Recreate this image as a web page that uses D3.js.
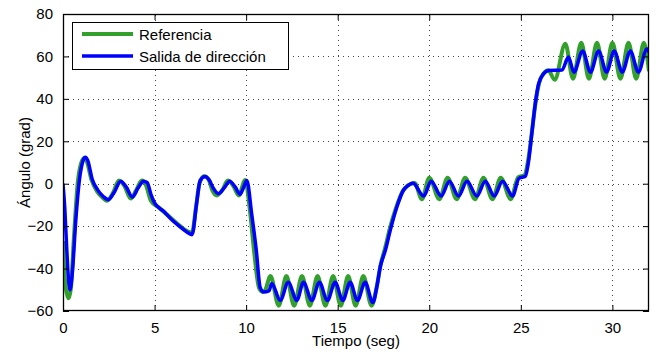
<!DOCTYPE html>
<html>
<head>
<meta charset="utf-8">
<script src="https://cdn.jsdelivr.net/npm/d3@7"></script>
<style>
  body { margin: 0; background: #fff; }
  text { font-family: 'Liberation Sans', Arial, sans-serif; font-size: 15px; fill: #000; }
</style>
</head>
<body>
<script>
const outerWidth = 659
const outerHeight = 356
const margins = { top: 14, right: 10, bottom: 45, left: 63 }

const xTicks = [0, 5, 10, 15, 20, 25, 30]
const yTicks = [-60, -40, -20, 0, 20, 40, 60, 80]

const refTime = [0, 0.05, 0.15, 0.3, 0.42, 0.6, 0.8, 1.0, 1.15, 1.3, 1.55, 1.85, 2.1, 2.4, 2.75, 3.05, 3.35, 3.7, 4.0, 4.3, 4.5, 4.8, 5.2, 5.6, 6.0, 6.4, 6.8, 7.05, 7.25, 7.45, 7.7, 7.95, 8.15, 8.4, 8.7, 9.0, 9.3, 9.6, 9.95, 10.2, 10.45, 10.7, 10.9, 11.05, 11.33, 11.78, 12.2, 12.62, 13.05, 13.48, 13.9, 14.33, 14.75, 15.17, 15.57, 15.98, 16.4, 16.85, 17.1, 17.35, 17.6, 17.85, 18.2, 18.55, 18.8, 19.05, 19.2, 19.6, 20.0, 20.55, 21.0, 21.5, 21.96, 22.5, 22.96, 23.45, 23.9, 24.45, 24.85, 25.2, 25.4, 25.6, 25.8, 26.0, 26.25, 26.5, 26.85, 27.43, 27.85, 28.3, 28.72, 29.16, 29.58, 30.0, 30.44, 30.88, 31.3, 31.72, 32.0]
const refValues = [-27, -38, -49, -54, -50, -25, 0, 10, 12, 10.5, 2, -3.5, -6, -8, -4, 1.5, -1, -7, -3, 1.5, 0, -8, -11, -14, -17, -20, -22.5, -23, -12, 0, 3.5, 2, -3, -5.5, -3, 1.5, -1, -5.5, 1.8, -12, -33, -49, -51, -50, -43.5, -57.5, -43.5, -57.5, -43.5, -57.5, -43.5, -57.5, -43.5, -57.5, -43.5, -57.5, -43.5, -57.5, -50, -38, -30, -21, -11, -3.5, -1, 0, 0.3, -7.3, 2.8, -7.3, 2.8, -7.3, 2.8, -7.3, 2.8, -7.3, 2.8, -7.3, 3, 4, 11, 24, 38, 47.5, 52, 53.5, 49, 66, 49.5, 66.5, 49.5, 66.5, 49.5, 66.5, 49.5, 66.5, 49.5, 66.5, 53]

const outTime = [0, 0.1, 0.2, 0.3, 0.38, 0.5, 0.7, 0.9, 1.1, 1.22, 1.35, 1.6, 1.9, 2.2, 2.48, 2.8, 3.15, 3.45, 3.79, 4.1, 4.4, 4.6, 4.8, 5.0, 5.5, 6.0, 6.5, 6.8, 7.05, 7.3, 7.49, 7.76, 8.0, 8.2, 8.49, 8.8, 9.1, 9.4, 9.67, 9.85, 10.04, 10.3, 10.55, 10.77, 10.95, 11.25, 11.4, 11.86, 12.3, 12.77, 13.13, 13.59, 14.0, 14.44, 14.86, 15.28, 15.68, 16.08, 16.5, 16.92, 17.15, 17.33, 17.6, 17.87, 18.23, 18.58, 18.85, 19.1, 19.7, 20.1, 20.65, 21.1, 21.6, 22.06, 22.6, 23.06, 23.55, 24.0, 24.55, 24.9, 25.25, 25.43, 25.6, 25.79, 25.97, 26.25, 26.52, 27.25, 27.6, 27.9, 28.38, 28.8, 29.25, 29.68, 30.1, 30.54, 30.98, 31.42, 31.88, 32.0]
const outValues = [0, -12, -30, -45, -50, -43, -17, 2, 11, 12.5, 11, 2, -3, -6, -7.5, -4, 1.2, -1.5, -6.3, -2, 1.2, 0.5, -5, -9, -13, -17.5, -21, -23, -24, -9, 1.5, 3.4, 1.5, -2, -4.7, -2, 1.2, -1.5, -5, -2, 1.5, -14, -31, -49, -51, -50.5, -47, -55, -46.5, -55, -46.5, -55, -46.5, -55, -46.5, -55, -46.5, -55, -46.5, -56, -48, -39, -31.5, -22, -11, -3.2, -0.8, 0.3, -5.8, 1.2, -5.8, 1.2, -5.8, 1.2, -5.8, 1.2, -5.8, 1.2, -5.8, 2.5, 3.5, 11, 23.6, 37.7, 47, 51.9, 53.4, 53.6, 59.7, 52.6, 62.6, 52.6, 62.6, 52.6, 62.6, 52.6, 62.6, 52.6, 63.5, 62]

const seriesNames = ['Referencia', 'Salida de dirección']
const seriesColors = ['#33a02c', '#0000ff']

const series = [
  { name: seriesNames[0], color: seriesColors[0], width: 4, points: refTime.map((t, i) => [t, refValues[i]]) },
  { name: seriesNames[1], color: seriesColors[1], width: 3.5, points: outTime.map((t, i) => [t, outValues[i]]) }
]

const svg = d3.select('body').append('svg')
  .attr('width', outerWidth)
  .attr('height', outerHeight)

const xScale = d3.scaleLinear()
  .domain([0, 32])
  .range([margins.left, outerWidth - margins.right])
const yScale = d3.scaleLinear()
  .domain([-60, 80])
  .range([outerHeight - margins.bottom, margins.top])

const [x0, x1] = xScale.range()
const [y0, y1] = yScale.range()

// dotted grid
const grid = svg.append('g')
  .attr('stroke', '#444')
  .attr('stroke-width', 1)
  .attr('stroke-dasharray', '1,4')
grid.selectAll('.gx').data(xTicks.filter(d => d > 0))
  .enter().append('line')
  .attr('x1', d => Math.round(xScale(d)) + 0.5)
  .attr('x2', d => Math.round(xScale(d)) + 0.5)
  .attr('y1', y0).attr('y2', y1)
grid.selectAll('.gy').data(yTicks.filter(d => d > -60 && d < 80))
  .enter().append('line')
  .attr('y1', d => Math.round(yScale(d)) + 0.5)
  .attr('y2', d => Math.round(yScale(d)) + 0.5)
  .attr('x1', x0).attr('x2', x1)

svg.append('clipPath').attr('id', 'plot')
  .append('rect')
  .attr('x', x0).attr('y', y1)
  .attr('width', x1 - x0).attr('height', y0 - y1)

const line = d3.line()
  .x(d => xScale(d[0]))
  .y(d => yScale(d[1]))
  .curve(d3.curveMonotoneX)

svg.append('g').attr('clip-path', 'url(#plot)')
  .selectAll('path').data(series)
  .enter().append('path')
  .attr('d', d => line(d.points))
  .attr('fill', 'none')
  .attr('stroke', d => d.color)
  .attr('stroke-width', d => d.width)
  .attr('stroke-linejoin', 'round')

// axes with inward ticks on all four sides
const tickLen = 6
const bottomAxis = d3.axisBottom(xScale).tickValues(xTicks).tickSize(-tickLen).tickPadding(tickLen + 5)
const topAxis = d3.axisTop(xScale).tickValues(xTicks).tickSize(-tickLen).tickFormat('')
const leftAxis = d3.axisLeft(yScale).tickValues(yTicks).tickSize(-tickLen).tickPadding(tickLen + 4)
const rightAxis = d3.axisRight(yScale).tickValues(yTicks).tickSize(-tickLen).tickFormat('')

const styleAxis = g => {
  g.select('.domain').remove()
  g.selectAll('line').attr('stroke', '#000')
  g.selectAll('text').attr('font-size', null).attr('font-family', null)
}

svg.append('g').attr('transform', `translate(0,${y0})`).call(bottomAxis).call(styleAxis)
svg.append('g').attr('transform', `translate(0,${y1})`).call(topAxis).call(styleAxis)
svg.append('g').attr('transform', `translate(${x0},0)`).call(leftAxis).call(styleAxis)
svg.append('g').attr('transform', `translate(${x1},0)`).call(rightAxis).call(styleAxis)

svg.append('rect')
  .attr('x', x0 + 0.5).attr('y', y1 + 0.5)
  .attr('width', x1 - x0 - 1).attr('height', y0 - y1 - 1)
  .attr('fill', 'none')
  .attr('stroke', '#000')
  .attr('stroke-width', 1.3)

svg.append('text')
  .attr('x', (x0 + x1) / 2)
  .attr('y', 346)
  .attr('text-anchor', 'middle')
  .text('Tiempo (seg)')

svg.append('text')
  .attr('transform', `translate(30,${(y0 + y1) / 2}) rotate(-90)`)
  .attr('text-anchor', 'middle')
  .text('Ángulo (grad)')

// legend
const legend = svg.append('g').attr('transform', 'translate(72,22)')
legend.append('rect')
  .attr('x', 0.5).attr('y', 0.5)
  .attr('width', 216).attr('height', 47)
  .attr('fill', '#fff')
  .attr('stroke', '#000')
const items = legend.selectAll('.item').data(series)
  .enter().append('g')
  .attr('transform', (d, i) => `translate(0,${12 + i * 22})`)
items.append('line')
  .attr('x1', 10).attr('x2', 61)
  .attr('stroke', d => d.color)
  .attr('stroke-width', d => d.width)
items.append('text')
  .attr('x', 67)
  .attr('y', 6)
  .text(d => d.name)
</script>
</body>
</html>
